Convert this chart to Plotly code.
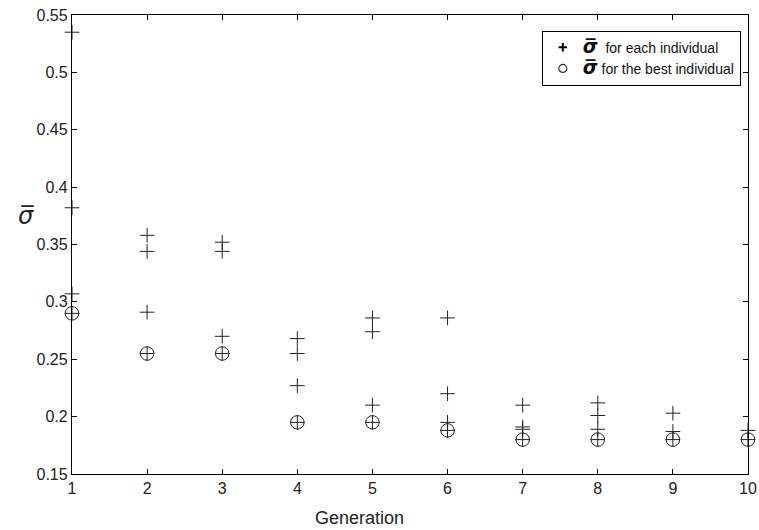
import plotly.graph_objects as go

# Generation, sigma-bar for each individual
gen_each = [1, 1, 1, 1,
            2, 2, 2, 2,
            3, 3, 3, 3,
            4, 4, 4, 4,
            5, 5, 5, 5,
            6, 6, 6, 6,
            7, 7, 7, 7,
            8, 8, 8, 8,
            9, 9, 9,
            10, 10]
sigma_each = [0.535, 0.382, 0.307, 0.290,
              0.358, 0.344, 0.291, 0.255,
              0.352, 0.344, 0.270, 0.255,
              0.268, 0.255, 0.227, 0.195,
              0.286, 0.274, 0.210, 0.195,
              0.286, 0.220, 0.195, 0.188,
              0.210, 0.191, 0.189, 0.180,
              0.212, 0.201, 0.189, 0.180,
              0.203, 0.187, 0.180,
              0.188, 0.180]

# Generation, sigma-bar for the best individual
gen_best = [1, 2, 3, 4, 5, 6, 7, 8, 9, 10]
sigma_best = [0.290, 0.255, 0.255, 0.195, 0.195, 0.188, 0.180, 0.180, 0.180, 0.180]

x_ticks = list(range(1, 11))
y_ticks = [0.15, 0.2, 0.25, 0.3, 0.35, 0.4, 0.45, 0.5, 0.55]
y_tick_labels = ["0.15", "0.2", "0.25", "0.3", "0.35", "0.4", "0.45", "0.5", "0.55"]

legend_each = "for each individual"
legend_best = "for the best individual"

FONT = "Liberation Sans, Arial, sans-serif"
INK = "#222"
SIGMA_BAR = "σ\u0305"
SIG = ("<b><i><span style='font-family:DejaVu Sans;font-size:19px'>"
       + SIGMA_BAR + "</span></i></b>")

fig = go.Figure()
# data traces
fig.add_trace(go.Scatter(
    x=gen_each, y=sigma_each, mode="markers", showlegend=False,
    marker=dict(symbol="cross-thin-open", size=10.5, color=INK,
                line=dict(color=INK, width=1)),
    cliponaxis=False,
))
fig.add_trace(go.Scatter(
    x=gen_best, y=sigma_best, mode="markers", showlegend=False,
    marker=dict(symbol="circle-open", size=13.5, color=INK,
                line=dict(color=INK, width=1)),
    cliponaxis=False,
))
# legend entries (small symbols as in the reference)
fig.add_trace(go.Scatter(
    x=[None], y=[None], mode="markers",
    name=SIG + "  " + legend_each,
    marker=dict(symbol="cross-thin-open", size=6, color="black",
                line=dict(color="black", width=2)),
))
fig.add_trace(go.Scatter(
    x=[None], y=[None], mode="markers",
    name=SIG + " " + legend_best,
    marker=dict(symbol="circle-open", size=8, color="#333",
                line=dict(color="#333", width=1.2)),
))

axis_common = dict(
    showline=True, linecolor="black", linewidth=1.3, mirror="ticks",
    ticks="inside", ticklen=5, tickcolor="black", tickwidth=1,
    showgrid=False, zeroline=False, automargin=False,
    tickfont=dict(family=FONT, size=16, color=INK),
)

fig.update_xaxes(range=[1, 10], tickvals=x_ticks, **axis_common)
fig.update_yaxes(range=[0.15, 0.55], tickvals=y_ticks, ticktext=y_tick_labels, **axis_common)

fig.add_annotation(text="Generation", xref="paper", yref="paper", x=0.426, y=-0.07,
                   yanchor="top", showarrow=False,
                   font=dict(family=FONT, size=18, color=INK))
fig.add_annotation(text="<i>" + SIGMA_BAR + "</i>",
                   xref="paper", yref="y", x=-0.083, y=0.375,
                   showarrow=False, font=dict(family="DejaVu Sans", size=24, color=INK))

fig.update_layout(
    width=759, height=530,
    margin=dict(l=72, r=11, t=15, b=56, autoexpand=False),
    paper_bgcolor="white", plot_bgcolor="white",
    showlegend=True,
    legend=dict(x=0.695, y=0.966, xanchor="left", yanchor="top",
                bordercolor="black", borderwidth=1, bgcolor="white",
                font=dict(family=FONT, size=14, color="#111"),
                itemsizing="trace", itemwidth=30, tracegroupgap=0),
)

fig.write_html("out.html", config={"displayModeBar": False},
               post_script="document.body.style.margin='0';document.body.style.overflow='hidden';")
